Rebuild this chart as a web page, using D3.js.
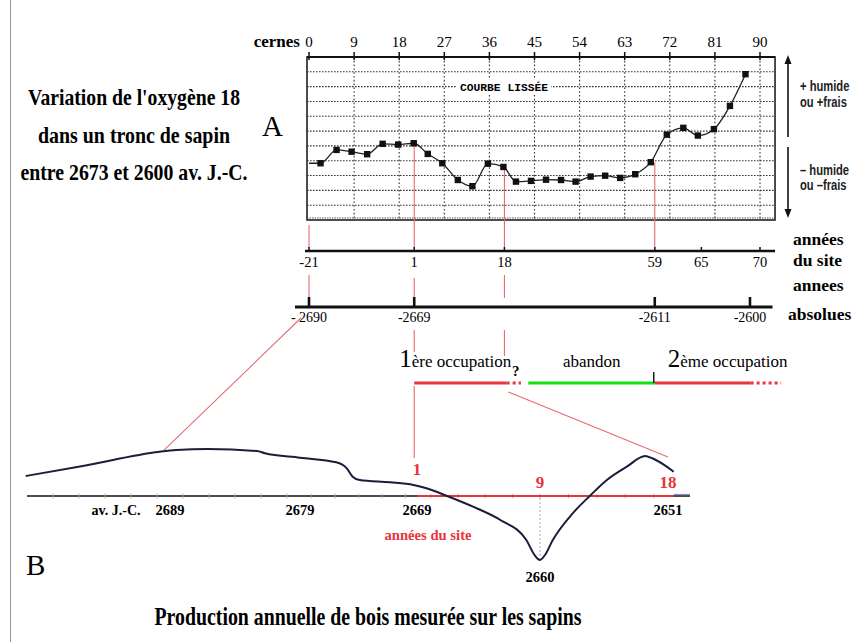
<!DOCTYPE html>
<html>
<head>
<meta charset="utf-8">
<script src="https://cdn.jsdelivr.net/npm/d3@7"></script>
<style>
  body { margin: 0; background: #fff; }
  svg { display: block; }
  text { font-family: "Liberation Serif", "Times New Roman", serif; }
  .sans { font-family: "Liberation Sans", Arial, sans-serif; }
  .mono { font-family: "Liberation Mono", "DejaVu Sans Mono", monospace; }
</style>
</head>
<body>
<svg id="oxygene" width="854" height="642"></svg>
<script>
var cernes = [0, 2.3, 5.5, 8.5, 11.6, 14.7, 17.8, 20.9, 23.7, 26.6, 29.7, 32.6, 35.7, 38.8, 41.3,
              44.3, 47.3, 50.3, 53.2, 56.2, 59.1, 62.1, 65.1, 68.2, 71.4, 74.7, 77.6, 80.8, 84, 87.1];
var o18 = [3.83, 3.83, 4.73, 4.61, 4.44, 5.14, 5.09, 5.18, 4.46, 3.83, 2.70, 2.28, 3.80, 3.58, 2.59,
           2.64, 2.72, 2.70, 2.59, 2.93, 2.99, 2.84, 3.09, 3.90, 5.76, 6.22, 5.70, 6.13, 7.70, 9.84];
var cerneTicks = [0, 9, 18, 27, 36, 45, 54, 63, 72, 81, 90];
var gridRows = [1, 2, 3, 4, 5, 6, 7, 8, 9, 10];

// années du site et années absolues, avec le cerne qui leur correspond
var siteYears = [-21, 1, 18, 59, 65, 70];
var siteCernes = [0, 21, 39, 69, 78.3, 90];
var linkedSiteYears = [-21, 1, 18, 59];
var absLabels = ['- 2690', '-2669', '-2611', '-2600'];
var absCernes = [0, 21, 69, 88];

// occupations (en années du site)
var phaseFrom = [1, 18.6, 24.5, 59, 69.2];
var phaseTo = [18.6, 22.5, 59, 69.2, 71.8];
var phaseKind = ['occ', 'dots', 'abandon', 'occ', 'dots'];

// B : production annuelle de bois (années av. J.-C., indice relatif à l'axe)
var bYears = [2700.1, 2695.7, 2689.8, 2688.5, 2686.1, 2682.3, 2681.7, 2679, 2675.9, 2675.0,
              2674.5, 2673.9, 2671.3, 2669.3, 2668.3, 2666.8, 2664.9, 2662.9, 2661.0, 2660.4,
              2660, 2659.65, 2659.1, 2657.7, 2656.5, 2655.3, 2653.9, 2652.6, 2652.1, 2650.6];
var bValues = [2.0, 3.0, 4.43, 4.6, 4.7, 4.5, 4.27, 3.83, 3.37, 2.77,
               1.93, 1.6, 1.37, 1.1, 0.77, 0, -1.07, -2.4, -4.4, -5.9,
               -6.4, -5.9, -4.4, -1.73, 0, 1.6, 2.93, 4.0, 3.77, 2.43];
var bYearTicks = [2689, 2679, 2669, 2651];
var bLowYear = 2660;
var bSiteYears = [1, 9, 18];
var bSiteAbs = [2669, 2660, 2651];

function makeOxygenDiagram(id) {
    var svg = d3.select('#' + id);
    var red = '#e8343c', pink = '#ea6a70';

    var x = d3.scaleLinear().domain([0, 90]).range([309, 760]);
    var y = d3.scaleLinear().domain([0, 11]).range([220, 57]);
    var site = d3.scaleLinear().domain(siteYears).range(siteCernes.map(x));
    // l'axe B du scan n'est pas tout à fait régulier : échelle par morceaux
    var xb = d3.scaleLinear().domain([2689, 2679, 2669, 2660, 2651]).range([170, 300, 417, 540, 668]);
    var yb = d3.scaleLinear().domain([-7, 5]).range([566, 446]);

    // cadre gauche de la page
    svg.append('line').attr('x1', 10.5).attr('x2', 10.5).attr('y1', 0).attr('y2', 642)
        .attr('stroke', '#9a9a9a').attr('stroke-width', 1);

    // Titre gauche
    var title = ["Variation de l'oxygène 18", 'dans un tronc de sapin', 'entre 2673 et 2600 av. J.-C.'];
    var titleW = [212, 192, 227];
    title.forEach(function (t, i) {
        svg.append('text')
            .attr('transform', 'translate(134,' + (105 + i * 37.5) + ') scale(1,1.22)')
            .attr('text-anchor', 'middle')
            .attr('font-size', 19.5).attr('font-weight', 'bold')
            .attr('textLength', titleW[i]).attr('lengthAdjust', 'spacingAndGlyphs')
            .text(t);
    });
    svg.append('text').attr('x', 262).attr('y', 136).attr('font-size', 29).text('A');

    // Graphique A
    var g = svg.append('g');
    g.selectAll('line.row').data(gridRows).enter().append('line')
        .attr('class', 'row')
        .attr('x1', x(-0.4)).attr('x2', x(93))
        .attr('y1', function (d) { return y(d); }).attr('y2', function (d) { return y(d); })
        .attr('stroke', '#333').attr('stroke-width', 1.1).attr('stroke-dasharray', '1.6,1.4');
    g.selectAll('line.col').data(cerneTicks.slice(1)).enter().append('line')
        .attr('class', 'col')
        .attr('x1', function (d) { return x(d); }).attr('x2', function (d) { return x(d); })
        .attr('y1', y(11)).attr('y2', y(0))
        .attr('stroke', '#333').attr('stroke-width', 1.1).attr('stroke-dasharray', '1.6,2.2');
    g.append('rect')
        .attr('x', x(-0.4)).attr('y', y(11))
        .attr('width', x(93) - x(-0.4)).attr('height', y(0) - y(11))
        .attr('fill', 'none').attr('stroke', '#222').attr('stroke-width', 1.6);
    g.append('line').attr('x1', x(-0.4)).attr('x2', x(93)).attr('y1', y(11)).attr('y2', y(11))
        .attr('stroke', '#111').attr('stroke-width', 2.2);
    g.append('line').attr('x1', x(-0.4)).attr('x2', x(93)).attr('y1', y(0) - 2).attr('y2', y(0) - 2)
        .attr('stroke', '#555').attr('stroke-width', 1).attr('stroke-dasharray', '1.5,1');

    g.selectAll('line.tick').data(cerneTicks).enter().append('line')
        .attr('x1', function (d) { return x(d); }).attr('x2', function (d) { return x(d); })
        .attr('y1', y(11) - 5).attr('y2', y(11) + 3)
        .attr('stroke', '#111').attr('stroke-width', 1.5);
    g.selectAll('text.tick').data(cerneTicks).enter().append('text')
        .attr('x', function (d) { return x(d); }).attr('y', 47)
        .attr('text-anchor', 'middle').attr('font-size', 15)
        .text(function (d) { return d; });
    g.append('text').attr('x', 300).attr('y', 47).attr('text-anchor', 'end')
        .attr('font-size', 17).attr('font-weight', 'bold').text('cernes');

    // étiquette "COURBE LISSÉE" posée sur une ligne de la grille
    g.append('rect').attr('x', 457).attr('y', y(9) - 7).attr('width', 94).attr('height', 14).attr('fill', '#fff');
    g.append('text').attr('class', 'mono')
        .attr('x', 460).attr('y', y(9) + 4)
        .attr('font-size', 11).attr('font-weight', 'bold')
        .attr('textLength', 88).attr('lengthAdjust', 'spacingAndGlyphs')
        .text('COURBE LISSÉE');

    // liens rouges vers les axes (dessinés sous la courbe)
    function nearest(c) {
        var i = d3.minIndex(cernes, function (v) { return Math.abs(v - c); });
        return o18[i];
    }
    function redV(px, y1, y2) {
        g.append('line').attr('x1', px).attr('x2', px).attr('y1', y1).attr('y2', y2)
            .attr('stroke', pink).attr('stroke-width', 1.1);
    }
    var linkGaps = {
        '-21': [[225, 248], [275, 298]],
        '1': [[null, 249], [278, 300], [330, 352], [386, 458]],
        '18': [[null, 249], [275, 298], [330, 356]],
        '59': [[null, 251]]
    };
    linkedSiteYears.forEach(function (sy) {
        var px = site(sy);
        var top = y(nearest(x.invert(px)));
        linkGaps[sy].forEach(function (s) { redV(px, s[0] === null ? top : s[0], s[1]); });
    });

    var line = d3.line()
        .x(function (d, i) { return x(cernes[i]); })
        .y(function (d) { return y(d); })
        .curve(d3.curveMonotoneX);
    g.append('path').datum(o18)
        .attr('d', line).attr('fill', 'none').attr('stroke', '#222').attr('stroke-width', 1.3);
    g.selectAll('rect.pt').data(o18.slice(1)).enter().append('rect')
        .attr('class', 'pt')
        .attr('x', function (d, i) { return x(cernes[i + 1]) - 3.2; })
        .attr('y', function (d) { return y(d) - 3.2; })
        .attr('width', 6.4).attr('height', 6.4).attr('fill', '#111');

    // flèches humide / frais
    var arrowX = 788;
    function arrow(y1, y2) {
        var dir = y2 < y1 ? 1 : -1;
        g.append('line').attr('x1', arrowX).attr('x2', arrowX).attr('y1', y1).attr('y2', y2 + dir * 6)
            .attr('stroke', '#111').attr('stroke-width', 1.6);
        g.append('path')
            .attr('d', 'M' + (arrowX - 3.5) + ',' + (y2 + dir * 9) + 'L' + arrowX + ',' + y2 + 'L' + (arrowX + 3.5) + ',' + (y2 + dir * 9) + 'Z')
            .attr('fill', '#111');
    }
    arrow(137, 55);
    arrow(147, 218);
    var side = [['+ humide', 91], ['ou +frais', 107], ['\u2013 humide', 175], ['ou \u2013frais', 190]];
    side.forEach(function (s) {
        g.append('text').attr('class', 'sans')
            .attr('transform', 'translate(800,' + s[1] + ') scale(0.86,1.08)')
            .attr('font-size', 13).attr('font-weight', 'bold').attr('fill', '#222')
            .text(s[0]);
    });

    // axe des années du site
    var axisY = 251;
    g.append('line').attr('x1', x(-0.8)).attr('x2', x(93)).attr('y1', axisY).attr('y2', axisY)
        .attr('stroke', '#111').attr('stroke-width', 2.4);
    g.selectAll('line.site').data(siteYears).enter().append('line')
        .attr('x1', function (d) { return site(d); }).attr('x2', function (d) { return site(d); })
        .attr('y1', axisY - 4).attr('y2', axisY)
        .attr('stroke', '#111').attr('stroke-width', 1.5);
    g.selectAll('text.site').data(siteYears).enter().append('text')
        .attr('x', function (d) { return site(d); }).attr('y', axisY + 16)
        .attr('text-anchor', 'middle').attr('font-size', 14.5)
        .text(function (d) { return d; });

    // axe des années absolues
    var absY = 307;
    g.append('line').attr('x1', 295).attr('x2', x(92.5)).attr('y1', absY).attr('y2', absY)
        .attr('stroke', '#111').attr('stroke-width', 2.8);
    g.selectAll('line.abs').data(absCernes).enter().append('line')
        .attr('x1', function (d) { return x(d); }).attr('x2', function (d) { return x(d); })
        .attr('y1', absY - 10).attr('y2', absY)
        .attr('stroke', '#111').attr('stroke-width', 2.6);
    g.selectAll('text.abs').data(absLabels).enter().append('text')
        .attr('x', function (d, i) { return x(absCernes[i]); }).attr('y', absY + 15)
        .attr('text-anchor', 'middle').attr('font-size', 14)
        .text(function (d) { return d; });

    var rightLabels = [['années', 245], ['du site', 266], ['annees', 291], ['absolues', 320]];
    rightLabels.forEach(function (r) {
        g.append('text').attr('x', r[0] === 'absolues' ? 788 : 793).attr('y', r[1])
            .attr('font-size', 17.5).attr('font-weight', 'bold').text(r[0]);
    });

    // occupations
    var barY = 383;
    phaseKind.forEach(function (k, i) {
        g.append('line')
            .attr('x1', site(phaseFrom[i])).attr('x2', site(phaseTo[i]))
            .attr('y1', barY).attr('y2', barY)
            .attr('stroke', k === 'abandon' ? '#12e012' : red)
            .attr('stroke-width', 3.2)
            .attr('stroke-dasharray', k === 'dots' ? '3,3' : null);
    });
    g.append('line').attr('x1', site(59) - 1).attr('x2', site(59) - 1).attr('y1', barY - 11).attr('y2', barY)
        .attr('stroke', '#111').attr('stroke-width', 1.4);

    var occ1 = g.append('text').attr('x', site(1) - 15).attr('y', 367);
    occ1.append('tspan').attr('font-size', 25).text('1');
    occ1.append('tspan').attr('font-size', 17).text('ère occupation');
    g.append('text').attr('x', 512).attr('y', 376).attr('font-size', 15).attr('font-weight', 'bold').text('?');
    g.append('text').attr('x', 563).attr('y', 367).attr('font-size', 17).text('abandon');
    var occ2 = g.append('text').attr('x', site(59) + 13).attr('y', 367);
    occ2.append('tspan').attr('font-size', 25).text('2');
    occ2.append('tspan').attr('font-size', 17).text('ème occupation');

    // Graphique B
    var b = svg.append('g');
    var zeroY = yb(0);

    // liens obliques entre A et B
    function valueAt(year) {
        var i = d3.minIndex(bYears, function (v) { return Math.abs(v - year); });
        return bValues[i];
    }
    b.append('line')
        .attr('x1', x(absCernes[0]) - 8).attr('y1', 318)
        .attr('x2', xb(2689.5)).attr('y2', yb(valueAt(2689.5)) - 1)
        .attr('stroke', pink).attr('stroke-width', 1.1);
    b.append('line')
        .attr('x1', site(18) + 4).attr('y1', 392)
        .attr('x2', xb(2651)).attr('y2', 457)
        .attr('stroke', pink).attr('stroke-width', 1.1);

    b.append('line').attr('x1', 27).attr('x2', 690).attr('y1', zeroY).attr('y2', zeroY)
        .attr('stroke', '#111').attr('stroke-width', 1.6);
    b.selectAll('line.minor').data(d3.range(2698, 2650, -2)).enter().append('line')
        .attr('x1', function (d) { return xb(d); }).attr('x2', function (d) { return xb(d); })
        .attr('y1', zeroY - 2).attr('y2', zeroY + 2)
        .attr('stroke', '#aaa').attr('stroke-width', 1);
    b.append('line').attr('x1', xb(2669)).attr('x2', xb(2650.6)).attr('y1', zeroY).attr('y2', zeroY)
        .attr('stroke', red).attr('stroke-width', 2);
    b.append('line').attr('x1', xb(2650.6)).attr('x2', 690).attr('y1', zeroY - 1.5).attr('y2', zeroY - 1.5)
        .attr('stroke', '#8a8ad8').attr('stroke-width', 1.2);
    b.append('line').attr('x1', xb(bLowYear)).attr('x2', xb(bLowYear)).attr('y1', zeroY + 2).attr('y2', yb(-6.4))
        .attr('stroke', '#aaa').attr('stroke-width', 1).attr('stroke-dasharray', '2,2');

    var bline = d3.line()
        .x(function (d, i) { return xb(bYears[i]); })
        .y(function (d) { return yb(d); })
        .curve(d3.curveMonotoneX);
    b.append('path').datum(bValues)
        .attr('d', bline).attr('fill', 'none').attr('stroke', '#1c1c3c').attr('stroke-width', 2);

    b.selectAll('text.year').data(bYearTicks).enter().append('text')
        .attr('x', function (d) { return xb(d); }).attr('y', zeroY + 19)
        .attr('text-anchor', 'middle').attr('font-size', 14.5).attr('font-weight', 'bold')
        .text(function (d) { return d; });
    b.append('text').attr('x', xb(bLowYear)).attr('y', yb(-6.4) + 22)
        .attr('text-anchor', 'middle').attr('font-size', 14.5).attr('font-weight', 'bold')
        .text(bLowYear);
    b.append('text').attr('x', 116).attr('y', zeroY + 19)
        .attr('text-anchor', 'middle').attr('font-size', 14).attr('font-weight', 'bold')
        .text('av. J.-C.');

    b.selectAll('text.siteb').data(bSiteYears).enter().append('text')
        .attr('x', function (d, i) { return xb(bSiteAbs[i]); })
        .attr('y', function (d, i) { return i === 0 ? 475 : 488; })
        .attr('text-anchor', 'middle').attr('font-size', 17).attr('font-weight', 'bold').attr('fill', red)
        .text(function (d) { return d; });
    b.append('text').attr('x', 428).attr('y', 540)
        .attr('text-anchor', 'middle').attr('font-size', 15).attr('font-weight', 'bold').attr('fill', red)
        .attr('textLength', 87).attr('lengthAdjust', 'spacingAndGlyphs')
        .text('années du site');

    b.append('text').attr('x', 26).attr('y', 575).attr('font-size', 29).text('B');
    b.append('text')
        .attr('transform', 'translate(368,625) scale(1,1.3)')
        .attr('text-anchor', 'middle').attr('font-size', 19.5).attr('font-weight', 'bold')
        .attr('textLength', 427).attr('lengthAdjust', 'spacingAndGlyphs')
        .text('Production annuelle de bois mesurée sur les sapins');
}

makeOxygenDiagram('oxygene');
</script>
</body>
</html>
